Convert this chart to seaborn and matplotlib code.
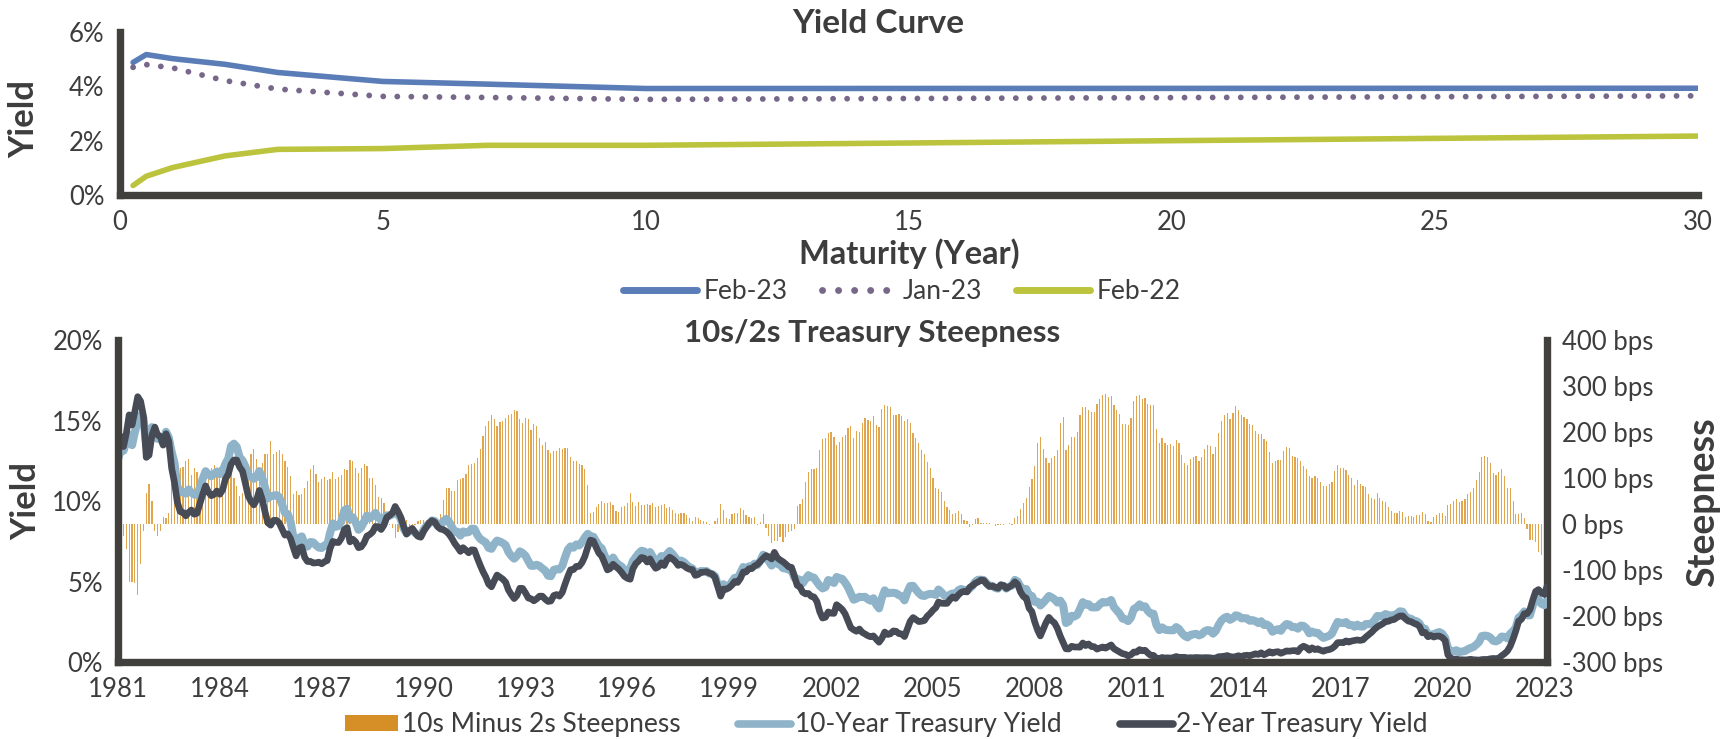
import numpy as np
import pandas as pd
import matplotlib
matplotlib.use("Agg")
import matplotlib.pyplot as plt
from matplotlib.lines import Line2D
from matplotlib.patches import Patch
from matplotlib.ticker import FuncFormatter
import seaborn as sns

# ---- Yield curve (maturity in years, yield in %) ----
maturity = [0.25, 0.5, 1, 2, 3, 5, 7, 10, 30]
feb23 = [4.88, 5.17, 5.02, 4.81, 4.51, 4.18, 4.08, 3.92, 3.93]
jan23 = [4.70, 4.80, 4.68, 4.21, 3.90, 3.63, 3.59, 3.52, 3.65]
feb22 = [0.35, 0.69, 1.01, 1.44, 1.68, 1.71, 1.83, 1.83, 2.17]

# ---- Monthly treasury yields (%), Jan 1981 - Feb 2023, one row per year ----
ten_year = [
    12.57, 13.19, 13.12, 13.68, 14.10, 13.47, 14.28, 14.94, 15.32, 15.15, 13.39, 13.72,
    14.59, 14.43, 13.86, 13.87, 13.62, 14.30, 13.95, 13.06, 12.34, 10.91, 10.55, 10.54,
    10.46, 10.72, 10.51, 10.40, 10.38, 10.85, 11.38, 11.85, 11.65, 11.54, 11.69, 11.83,
    11.67, 11.84, 12.32, 12.63, 13.41, 13.56, 13.36, 12.72, 12.52, 12.16, 11.57, 11.50,
    11.38, 11.51, 11.86, 11.43, 10.85, 10.16, 10.31, 10.33, 10.37, 10.24, 9.78, 9.26,
    9.19, 8.70, 7.78, 7.30, 7.71, 7.80, 7.30, 7.17, 7.45, 7.43, 7.25, 7.11,
    7.08, 7.25, 7.25, 8.02, 8.61, 8.40, 8.45, 8.76, 9.42, 9.52, 8.86, 8.99,
    8.67, 8.21, 8.37, 8.72, 9.09, 8.92, 9.06, 9.26, 8.98, 8.80, 8.96, 9.11,
    9.09, 9.17, 9.36, 9.18, 8.86, 8.28, 8.02, 8.11, 8.19, 8.01, 7.87, 7.84,
    8.21, 8.47, 8.59, 8.79, 8.76, 8.48, 8.47, 8.75, 8.89, 8.72, 8.39, 8.08,
    8.09, 7.85, 8.11, 8.04, 8.07, 8.28, 8.27, 7.90, 7.65, 7.53, 7.42, 7.09,
    7.03, 7.34, 7.54, 7.48, 7.39, 7.26, 6.84, 6.59, 6.42, 6.59, 6.87, 6.77,
    6.60, 6.26, 5.98, 5.97, 6.04, 5.96, 5.81, 5.68, 5.36, 5.33, 5.72, 5.77,
    5.75, 5.97, 6.48, 6.97, 7.18, 7.10, 7.30, 7.24, 7.46, 7.74, 7.96, 7.81,
    7.78, 7.47, 7.20, 7.06, 6.63, 6.17, 6.28, 6.49, 6.20, 6.04, 5.93, 5.71,
    5.65, 5.81, 6.27, 6.51, 6.74, 6.91, 6.87, 6.64, 6.83, 6.53, 6.20, 6.30,
    6.58, 6.42, 6.69, 6.89, 6.71, 6.49, 6.22, 6.30, 6.21, 6.03, 5.88, 5.81,
    5.54, 5.57, 5.65, 5.64, 5.65, 5.50, 5.46, 5.34, 4.81, 4.53, 4.83, 4.65,
    4.72, 5.00, 5.23, 5.18, 5.54, 5.90, 5.79, 5.94, 5.92, 6.11, 6.03, 6.28,
    6.66, 6.52, 6.26, 5.99, 6.44, 6.10, 6.05, 5.83, 5.80, 5.74, 5.72, 5.24,
    5.16, 5.10, 4.89, 5.14, 5.39, 5.28, 5.24, 4.97, 4.73, 4.57, 4.65, 5.09,
    5.04, 4.91, 5.28, 5.21, 5.16, 4.93, 4.65, 4.26, 3.87, 3.94, 4.05, 4.03,
    4.05, 3.90, 3.81, 3.96, 3.57, 3.33, 3.98, 4.45, 4.27, 4.29, 4.30, 4.27,
    4.15, 4.08, 3.83, 4.35, 4.72, 4.73, 4.50, 4.28, 4.13, 4.10, 4.19, 4.23,
    4.22, 4.17, 4.50, 4.34, 4.14, 4.00, 4.18, 4.26, 4.20, 4.46, 4.54, 4.47,
    4.42, 4.57, 4.72, 4.99, 5.11, 5.11, 5.09, 4.88, 4.72, 4.73, 4.60, 4.56,
    4.76, 4.72, 4.56, 4.69, 4.75, 5.10, 5.00, 4.67, 4.52, 4.53, 4.15, 4.10,
    3.74, 3.74, 3.51, 3.68, 3.88, 4.10, 4.01, 3.89, 3.69, 3.81, 3.53, 2.42,
    2.52, 2.87, 2.82, 2.93, 3.29, 3.72, 3.56, 3.59, 3.40, 3.39, 3.40, 3.59,
    3.73, 3.69, 3.73, 3.85, 3.42, 3.20, 3.01, 2.70, 2.65, 2.54, 2.76, 3.29,
    3.39, 3.58, 3.41, 3.46, 3.17, 3.00, 3.00, 2.30, 1.98, 2.15, 2.01, 1.98,
    1.97, 1.97, 2.17, 2.05, 1.80, 1.62, 1.53, 1.68, 1.72, 1.75, 1.65, 1.72,
    1.91, 1.98, 1.96, 1.76, 1.93, 2.30, 2.58, 2.74, 2.81, 2.62, 2.72, 2.90,
    2.86, 2.71, 2.72, 2.71, 2.56, 2.60, 2.54, 2.42, 2.53, 2.30, 2.33, 2.21,
    1.88, 1.98, 2.04, 1.94, 2.20, 2.36, 2.32, 2.17, 2.17, 2.07, 2.26, 2.24,
    2.09, 1.78, 1.89, 1.81, 1.81, 1.64, 1.50, 1.56, 1.63, 1.76, 2.14, 2.49,
    2.43, 2.42, 2.48, 2.30, 2.30, 2.19, 2.32, 2.21, 2.20, 2.36, 2.35, 2.40,
    2.58, 2.86, 2.84, 2.87, 2.98, 2.91, 2.89, 2.89, 3.00, 3.15, 3.12, 2.83,
    2.71, 2.68, 2.57, 2.53, 2.40, 2.07, 2.06, 1.63, 1.70, 1.71, 1.81, 1.86,
    1.76, 1.50, 0.87, 0.66, 0.67, 0.73, 0.62, 0.65, 0.68, 0.79, 0.87, 0.93,
    1.08, 1.26, 1.61, 1.64, 1.62, 1.52, 1.32, 1.28, 1.37, 1.58, 1.56, 1.47,
    1.76, 1.93, 2.13, 2.75, 2.90, 3.14, 2.90, 2.90, 3.52, 3.98, 3.89, 3.62,
    3.53, 3.80,
]

two_year = [
    13.01, 14.01, 13.38, 14.23, 15.35, 14.72, 15.56, 16.48, 16.20, 15.30, 12.71, 12.85,
    14.10, 14.59, 14.11, 14.02, 13.47, 14.18, 13.72, 12.03, 11.13, 9.92, 9.34, 9.29,
    9.08, 9.30, 9.44, 9.18, 9.24, 9.85, 10.42, 10.94, 10.54, 10.33, 10.41, 10.62,
    10.42, 10.70, 11.36, 11.67, 12.29, 12.55, 12.54, 12.11, 11.85, 11.12, 10.32, 9.98,
    9.76, 10.09, 10.66, 10.10, 9.33, 8.64, 8.50, 8.80, 8.80, 8.64, 8.26, 7.88,
    7.96, 7.65, 7.13, 6.59, 7.07, 7.15, 6.51, 6.24, 6.25, 6.15, 6.16, 6.20,
    6.10, 6.23, 6.30, 7.05, 7.49, 7.43, 7.42, 7.69, 8.22, 8.35, 7.46, 7.63,
    7.46, 7.10, 7.15, 7.41, 7.82, 7.92, 8.07, 8.42, 8.40, 8.23, 8.51, 8.99,
    9.11, 9.26, 9.66, 9.35, 8.98, 8.41, 7.94, 8.16, 8.30, 8.04, 7.81, 7.75,
    8.12, 8.39, 8.63, 8.78, 8.69, 8.40, 8.26, 8.22, 8.11, 7.94, 7.68, 7.37,
    7.13, 6.87, 7.10, 6.95, 6.78, 6.97, 6.95, 6.47, 6.02, 5.62, 5.28, 4.84,
    4.67, 5.06, 5.40, 5.27, 5.15, 4.96, 4.48, 4.19, 3.94, 4.13, 4.58, 4.57,
    4.29, 3.97, 3.93, 3.80, 3.92, 4.09, 4.09, 3.90, 3.76, 3.79, 4.13, 4.19,
    4.09, 4.33, 4.82, 5.31, 5.73, 5.74, 5.94, 5.94, 6.18, 6.55, 7.12, 7.57,
    7.51, 7.11, 6.77, 6.57, 6.17, 5.72, 5.81, 6.07, 5.91, 5.77, 5.56, 5.32,
    5.20, 5.14, 5.79, 6.11, 6.27, 6.49, 6.45, 6.21, 6.41, 6.08, 5.82, 5.91,
    6.16, 5.99, 6.34, 6.51, 6.40, 6.24, 6.00, 6.06, 5.98, 5.84, 5.76, 5.74,
    5.38, 5.43, 5.57, 5.58, 5.61, 5.52, 5.46, 5.27, 4.67, 4.09, 4.53, 4.52,
    4.62, 4.79, 5.00, 4.94, 5.19, 5.59, 5.59, 5.79, 5.80, 5.96, 6.06, 6.24,
    6.44, 6.61, 6.53, 6.40, 6.81, 6.48, 6.34, 6.23, 6.08, 5.91, 5.88, 5.35,
    4.76, 4.66, 4.34, 4.23, 4.26, 4.08, 4.04, 3.76, 3.12, 2.73, 2.78, 3.11,
    3.03, 3.02, 3.56, 3.42, 3.26, 2.99, 2.56, 2.13, 2.00, 1.91, 2.05, 1.84,
    1.74, 1.63, 1.57, 1.62, 1.42, 1.23, 1.47, 1.86, 1.71, 1.75, 1.93, 1.91,
    1.76, 1.74, 1.58, 2.07, 2.53, 2.76, 2.64, 2.51, 2.53, 2.58, 2.85, 3.01,
    3.22, 3.38, 3.73, 3.65, 3.64, 3.64, 3.87, 4.04, 3.95, 4.17, 4.33, 4.39,
    4.35, 4.64, 4.74, 4.89, 4.97, 5.09, 5.07, 4.85, 4.69, 4.72, 4.64, 4.58,
    4.79, 4.75, 4.57, 4.67, 4.77, 4.98, 4.82, 4.34, 4.06, 3.97, 3.34, 3.12,
    2.48, 1.97, 1.62, 2.05, 2.45, 2.77, 2.57, 2.42, 2.08, 1.61, 1.21, 0.82,
    0.81, 0.98, 0.93, 0.93, 0.92, 1.18, 1.02, 1.12, 0.96, 0.95, 0.80, 0.87,
    0.93, 0.86, 0.96, 1.06, 0.83, 0.72, 0.62, 0.52, 0.48, 0.38, 0.45, 0.62,
    0.61, 0.77, 0.70, 0.73, 0.56, 0.41, 0.41, 0.23, 0.21, 0.28, 0.25, 0.26,
    0.24, 0.28, 0.34, 0.29, 0.29, 0.29, 0.25, 0.27, 0.26, 0.28, 0.27, 0.26,
    0.27, 0.27, 0.26, 0.23, 0.25, 0.33, 0.34, 0.36, 0.40, 0.34, 0.30, 0.34,
    0.39, 0.33, 0.40, 0.42, 0.39, 0.45, 0.51, 0.47, 0.57, 0.45, 0.53, 0.64,
    0.55, 0.62, 0.64, 0.54, 0.61, 0.69, 0.67, 0.70, 0.71, 0.64, 0.88, 0.98,
    0.90, 0.73, 0.88, 0.77, 0.82, 0.73, 0.67, 0.74, 0.77, 0.84, 0.98, 1.20,
    1.21, 1.20, 1.31, 1.24, 1.30, 1.34, 1.37, 1.34, 1.38, 1.55, 1.70, 1.84,
    2.03, 2.18, 2.28, 2.38, 2.51, 2.53, 2.61, 2.64, 2.77, 2.86, 2.86, 2.68,
    2.54, 2.50, 2.41, 2.34, 2.21, 1.81, 1.84, 1.57, 1.65, 1.55, 1.61, 1.61,
    1.52, 1.33, 0.45, 0.22, 0.17, 0.19, 0.14, 0.14, 0.13, 0.14, 0.17, 0.14,
    0.13, 0.12, 0.15, 0.16, 0.16, 0.20, 0.22, 0.21, 0.24, 0.39, 0.52, 0.68,
    0.98, 1.44, 1.91, 2.54, 2.65, 3.00, 3.00, 3.25, 3.86, 4.38, 4.50, 4.29,
    4.21, 4.70,
]

dates = pd.date_range("1981-01-01", periods=len(ten_year), freq="MS")
df = pd.DataFrame({"date": dates, "ten": ten_year, "two": two_year})
# spread in basis points
df["steep"] = (df["ten"] - df["two"]) * 100

sns.set_style("white")
plt.rcParams["font.family"] = ["Lato", "DejaVu Sans"]

TXT = "#3d3d3d"
SPINE = "#42403c"
C_FEB23, C_JAN23, C_FEB22 = "#5a7db8", "#77688a", "#bcc43e"
C_BAR, C_10Y, C_2Y = "#dc952f", "#8fb4c9", "#474b56"

fig = plt.figure(figsize=(17.33, 7.39), dpi=100)

# ---------------- top: yield curve ----------------
ax1 = fig.add_axes([0.0692, 0.7361, 0.9106, 0.2206])
sns.lineplot(x=maturity, y=feb23, ax=ax1, color=C_FEB23, lw=4.0)
sns.lineplot(x=maturity, y=jan23, ax=ax1, color=C_JAN23, lw=4.2,
             linestyle=(0, (0.01, 2.4)), dash_capstyle="round")
sns.lineplot(x=maturity, y=feb22, ax=ax1, color=C_FEB22, lw=4.0)
ax1.set_xlim(0, 30)
ax1.set_ylim(0, 6)
ax1.set_xticks(range(0, 31, 5))
ax1.set_yticks([0, 2, 4, 6])
ax1.yaxis.set_major_formatter(FuncFormatter(lambda v, p: f"{v:.0f}%"))
ax1.set_xlabel("")
ax1.set_ylabel("")

# ---------------- bottom: 10s/2s ----------------
ax2 = fig.add_axes([0.0681, 0.1042, 0.8246, 0.4357])
ax3 = ax2.twinx()
ax3.bar(df["date"], df["steep"], width=13, color=C_BAR, linewidth=0, alpha=0.85)
ax3.set_ylim(-300, 400)
ax3.set_yticks(range(-300, 401, 100))
ax3.yaxis.set_major_formatter(FuncFormatter(lambda v, p: f"{int(v)} bps"))

sns.lineplot(data=df, x="date", y="ten", ax=ax2, color=C_10Y, lw=5.8)
sns.lineplot(data=df, x="date", y="two", ax=ax2, color=C_2Y, lw=4.8)
ax2.set_zorder(ax3.get_zorder() + 1)
ax2.patch.set_visible(False)
ax2.set_ylim(0, 20)
ax2.set_yticks([0, 5, 10, 15, 20])
ax2.yaxis.set_major_formatter(FuncFormatter(lambda v, p: f"{v:.0f}%"))
ax2.set_xlim(pd.Timestamp("1981-01-01"), pd.Timestamp("2023-02-01"))
ax2.set_xticks([pd.Timestamp(f"{y}-01-01") for y in range(1981, 2024, 3)])
ax2.set_xticklabels([str(y) for y in range(1981, 2024, 3)])
ax2.set_xlabel("")
ax2.set_ylabel("")

for ax in (ax1, ax2, ax3):
    for s in ax.spines.values():
        s.set_visible(False)
    ax.tick_params(length=0, pad=11, labelsize=18.5, colors=TXT)
for ax, sides in ((ax1, ("left", "bottom")), (ax2, ("left", "bottom")), (ax3, ("right",))):
    for side in sides:
        ax.spines[side].set_visible(True)
        ax.spines[side].set_color(SPINE)
        ax.spines[side].set_linewidth(5.3)
        ax.spines[side].set_zorder(5)

# ---------------- texts ----------------
fig.text(0.5066, 0.968, "Yield Curve", ha="center", va="center",
         fontsize=24, fontweight="bold", color=TXT)
fig.text(0.5245, 0.657, "Maturity (Year)", ha="center", va="center",
         fontsize=23.5, fontweight="bold", color=TXT)
fig.text(0.0138, 0.839, "Yield", rotation=90, ha="center", va="center",
         fontsize=25, fontweight="bold", color=TXT)
fig.text(0.503, 0.549, "10s/2s Treasury Steepness", ha="center", va="center",
         fontsize=22.5, fontweight="bold", color=TXT)
fig.text(0.015, 0.322, "Yield", rotation=90, ha="center", va="center",
         fontsize=25, fontweight="bold", color=TXT)
fig.text(0.9827, 0.321, "Steepness", rotation=90, ha="center", va="center",
         fontsize=27, fontweight="bold", color=TXT)

# ---------------- legends ----------------
top_handles = [
    Line2D([], [], color=C_FEB23, lw=5, solid_capstyle="round"),
    Line2D([], [], color=C_JAN23, lw=5, linestyle=(0, (0.01, 2.3)), dash_capstyle="round"),
    Line2D([], [], color=C_FEB22, lw=5, solid_capstyle="round"),
]
fig.legend(top_handles, ["Feb-23", "Jan-23", "Feb-22"], loc="center",
           bbox_to_anchor=(0.5205, 0.605), ncol=3, frameon=False, fontsize=19,
           handlelength=2.8, handletextpad=0.25, columnspacing=1.3, labelcolor=TXT)

bot_handles = [
    Patch(facecolor="#d68f27", edgecolor="none"),
    Line2D([], [], color=C_10Y, lw=5.5, solid_capstyle="round"),
    Line2D([], [], color=C_2Y, lw=5.5, solid_capstyle="round"),
]
fig.legend(bot_handles, ["10s Minus 2s Steepness", "10-Year Treasury Yield",
                         "2-Year Treasury Yield"], loc="center",
           bbox_to_anchor=(0.5115, 0.019), ncol=3, frameon=False, fontsize=19,
           handlelength=2.0, handleheight=0.55, handletextpad=0.15,
           columnspacing=2.2, labelcolor=TXT)

fig.savefig("out.png", dpi=100)
